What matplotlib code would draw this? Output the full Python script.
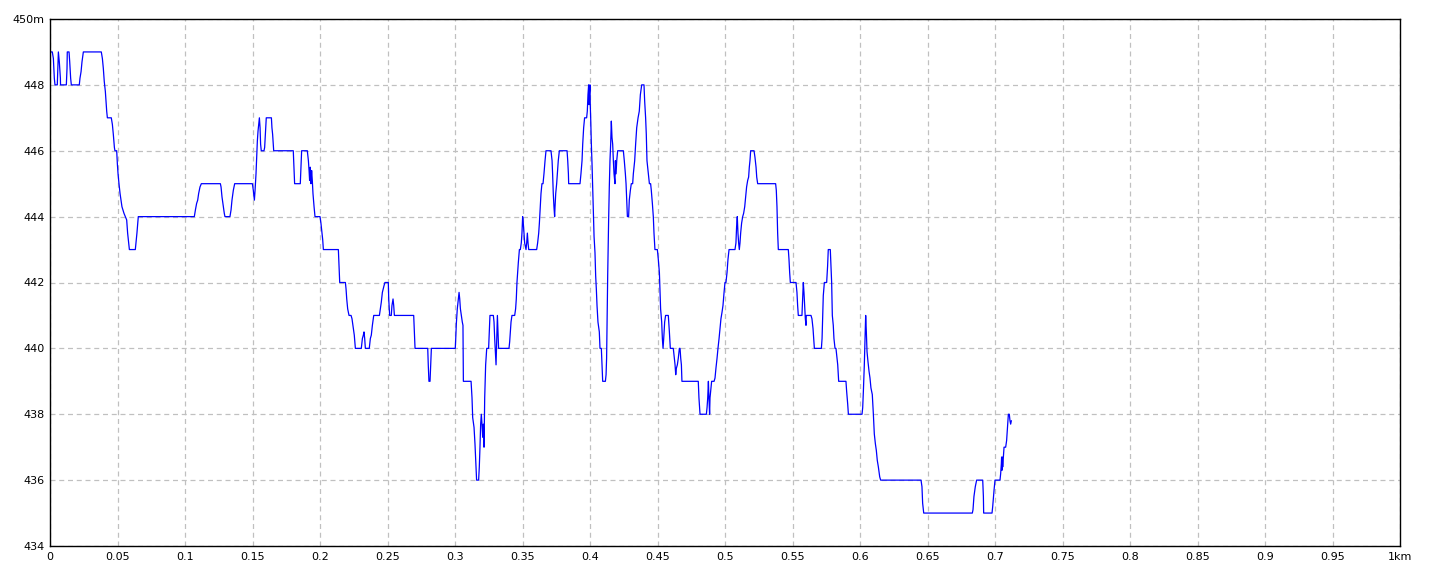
import matplotlib
matplotlib.use("Agg")
import matplotlib.pyplot as plt
import matplotlib.ticker as mtick
import numpy as np

# elevation profile: distance (km), elevation (m)
dist = [
    0.0, 0.0017, 0.0025, 0.0032, 0.0037, 0.0054, 0.0062, 0.0069, 0.0077, 0.0078,
    0.0121, 0.0126, 0.0128, 0.0141, 0.0146, 0.0153, 0.0158, 0.0217, 0.0222, 0.0230,
    0.0237, 0.0247, 0.0380, 0.0388, 0.0395, 0.0402, 0.0410, 0.0415, 0.0420, 0.0425,
    0.0454, 0.0462, 0.0469, 0.0477, 0.0481, 0.0494, 0.0499, 0.0504, 0.0511, 0.0519,
    0.0526, 0.0533, 0.0548, 0.0558, 0.0568, 0.0575, 0.0583, 0.0588, 0.0632, 0.0637,
    0.0644, 0.0652, 0.0654, 0.1069, 0.1077, 0.1086, 0.1094, 0.1101, 0.1111, 0.1121,
    0.1262, 0.1267, 0.1274, 0.1284, 0.1291, 0.1296, 0.1333, 0.1341, 0.1348, 0.1358,
    0.1368, 0.1499, 0.1506, 0.1514, 0.1519, 0.1526, 0.1531, 0.1536, 0.1541, 0.1548,
    0.1551, 0.1556, 0.1560, 0.1565, 0.1585, 0.1590, 0.1595, 0.1602, 0.1640, 0.1644,
    0.1649, 0.1654, 0.1657, 0.1802, 0.1807, 0.1812, 0.1854, 0.1859, 0.1864, 0.1906,
    0.1914, 0.1919, 0.1923, 0.1928, 0.1933, 0.1938, 0.1943, 0.1948, 0.1956, 0.1963,
    0.2000, 0.2007, 0.2015, 0.2020, 0.2025, 0.2136, 0.2141, 0.2146, 0.2188, 0.2193,
    0.2198, 0.2205, 0.2215, 0.2230, 0.2237, 0.2247, 0.2254, 0.2262, 0.2306, 0.2314,
    0.2321, 0.2326, 0.2331, 0.2336, 0.2365, 0.2373, 0.2380, 0.2388, 0.2398, 0.2440,
    0.2447, 0.2454, 0.2462, 0.2474, 0.2481, 0.2506, 0.2509, 0.2516, 0.2528, 0.2533,
    0.2541, 0.2546, 0.2551, 0.2694, 0.2699, 0.2704, 0.2798, 0.2802, 0.2807, 0.2815,
    0.2820, 0.2825, 0.3002, 0.3005, 0.3010, 0.3017, 0.3025, 0.3030, 0.3035, 0.3040,
    0.3047, 0.3054, 0.3059, 0.3062, 0.3119, 0.3126, 0.3131, 0.3141, 0.3148, 0.3156,
    0.3160, 0.3175, 0.3180, 0.3185, 0.3190, 0.3195, 0.3200, 0.3205, 0.3210, 0.3215,
    0.3220, 0.3227, 0.3235, 0.3249, 0.3254, 0.3259, 0.3284, 0.3289, 0.3294, 0.3299,
    0.3304, 0.3309, 0.3314, 0.3319, 0.3323, 0.3400, 0.3405, 0.3410, 0.3415, 0.3422,
    0.3442, 0.3449, 0.3454, 0.3459, 0.3464, 0.3469, 0.3477, 0.3484, 0.3491, 0.3496,
    0.3501, 0.3506, 0.3511, 0.3516, 0.3521, 0.3526, 0.3531, 0.3536, 0.3541, 0.3546,
    0.3605, 0.3612, 0.3620, 0.3625, 0.3630, 0.3637, 0.3644, 0.3652, 0.3659, 0.3667,
    0.3674, 0.3711, 0.3719, 0.3723, 0.3728, 0.3733, 0.3738, 0.3741, 0.3746, 0.3753,
    0.3758, 0.3765, 0.3773, 0.3830, 0.3835, 0.3840, 0.3842, 0.3926, 0.3933, 0.3941,
    0.3946, 0.3953, 0.3960, 0.3975, 0.3980, 0.3985, 0.3990, 0.3993, 0.3995, 0.4000,
    0.4002, 0.4005, 0.4010, 0.4015, 0.4020, 0.4025, 0.4030, 0.4037, 0.4042, 0.4047,
    0.4052, 0.4059, 0.4069, 0.4074, 0.4084, 0.4089, 0.4094, 0.4114, 0.4119, 0.4123,
    0.4131, 0.4138, 0.4143, 0.4148, 0.4153, 0.4158, 0.4160, 0.4163, 0.4168, 0.4173,
    0.4178, 0.4185, 0.4188, 0.4193, 0.4198, 0.4205, 0.4247, 0.4254, 0.4262, 0.4267,
    0.4272, 0.4277, 0.4286, 0.4291, 0.4299, 0.4306, 0.4316, 0.4321, 0.4331, 0.4338,
    0.4346, 0.4356, 0.4365, 0.4373, 0.4383, 0.4400, 0.4405, 0.4412, 0.4417, 0.4422,
    0.4432, 0.4440, 0.4449, 0.4454, 0.4462, 0.4469, 0.4474, 0.4481, 0.4499, 0.4506,
    0.4514, 0.4519, 0.4523, 0.4531, 0.4536, 0.4541, 0.4546, 0.4553, 0.4560, 0.4580,
    0.4588, 0.4595, 0.4617, 0.4625, 0.4630, 0.4635, 0.4640, 0.4647, 0.4654, 0.4662,
    0.4667, 0.4672, 0.4677, 0.4681, 0.4802, 0.4807, 0.4815, 0.4862, 0.4867, 0.4872,
    0.4877, 0.4881, 0.4886, 0.4889, 0.4894, 0.4901, 0.4919, 0.4926, 0.4933, 0.4941,
    0.4948, 0.4956, 0.4963, 0.4970, 0.4978, 0.4985, 0.4993, 0.5000, 0.5007, 0.5015,
    0.5022, 0.5030, 0.5074, 0.5081, 0.5086, 0.5091, 0.5096, 0.5101, 0.5106, 0.5111,
    0.5116, 0.5123, 0.5131, 0.5138, 0.5146, 0.5153, 0.5160, 0.5168, 0.5175, 0.5180,
    0.5185, 0.5190, 0.5215, 0.5222, 0.5230, 0.5235, 0.5242, 0.5375, 0.5380, 0.5385,
    0.5390, 0.5395, 0.5469, 0.5474, 0.5479, 0.5484, 0.5526, 0.5533, 0.5538, 0.5543,
    0.5570, 0.5575, 0.5580, 0.5585, 0.5590, 0.5595, 0.5600, 0.5602, 0.5607, 0.5637,
    0.5644, 0.5652, 0.5657, 0.5662, 0.5714, 0.5719, 0.5723, 0.5728, 0.5736, 0.5753,
    0.5760, 0.5765, 0.5780, 0.5785, 0.5790, 0.5795, 0.5802, 0.5807, 0.5815, 0.5822,
    0.5827, 0.5835, 0.5842, 0.5896, 0.5901, 0.5909, 0.5914, 0.6015, 0.6020, 0.6025,
    0.6032, 0.6037, 0.6042, 0.6047, 0.6052, 0.6059, 0.6067, 0.6074, 0.6081, 0.6091,
    0.6099, 0.6106, 0.6114, 0.6121, 0.6128, 0.6136, 0.6146, 0.6153, 0.6452, 0.6459,
    0.6464, 0.6472, 0.6832, 0.6837, 0.6844, 0.6854, 0.6864, 0.6909, 0.6914, 0.6916,
    0.6978, 0.6983, 0.6993, 0.7000, 0.7037, 0.7042, 0.7047, 0.7049, 0.7052, 0.7054,
    0.7057, 0.7062, 0.7067, 0.7079, 0.7086, 0.7091, 0.7094, 0.7099, 0.7106, 0.7111,
    0.7116, 0.7121,
]
elev = [
    449.0, 449.0, 448.8, 448.2, 448.0, 448.0, 449.0, 448.7, 448.2, 448.0,
    448.0, 448.5, 449.0, 449.0, 448.7, 448.2, 448.0, 448.0, 448.2, 448.4,
    448.7, 449.0, 449.0, 448.8, 448.5, 448.1, 447.8, 447.5, 447.2, 447.0,
    447.0, 446.8, 446.5, 446.1, 446.0, 446.0, 445.6, 445.3, 445.0, 444.7,
    444.5, 444.3, 444.1, 444.0, 443.9, 443.5, 443.2, 443.0, 443.0, 443.2,
    443.5, 443.9, 444.0, 444.0, 444.2, 444.4, 444.5, 444.7, 444.9, 445.0,
    445.0, 444.9, 444.6, 444.3, 444.1, 444.0, 444.0, 444.2, 444.5, 444.8,
    445.0, 445.0, 444.8, 444.5, 444.8, 445.3, 445.8, 446.3, 446.6, 446.9,
    447.0, 446.7, 446.2, 446.0, 446.0, 446.1, 446.5, 447.0, 447.0, 446.7,
    446.5, 446.2, 446.0, 446.0, 445.5, 445.0, 445.0, 445.5, 446.0, 446.0,
    445.7, 445.4, 445.1, 445.5, 445.0, 445.4, 445.1, 444.7, 444.3, 444.0,
    444.0, 443.8, 443.5, 443.3, 443.0, 443.0, 442.5, 442.0, 442.0, 441.8,
    441.5, 441.2, 441.0, 441.0, 440.9, 440.6, 440.4, 440.0, 440.0, 440.3,
    440.4, 440.5, 440.3, 440.0, 440.0, 440.3, 440.4, 440.7, 441.0, 441.0,
    441.2, 441.4, 441.7, 441.9, 442.0, 442.0, 441.5, 441.0, 441.0, 441.3,
    441.5, 441.3, 441.0, 441.0, 440.5, 440.0, 440.0, 439.5, 439.0, 439.0,
    439.5, 440.0, 440.0, 440.25, 440.76, 441.2, 441.5, 441.7, 441.5, 441.2,
    441.0, 440.8, 440.7, 439.0, 439.0, 438.5, 437.9, 437.6, 437.1, 436.4,
    436.0, 436.0, 436.4, 437.0, 437.7, 438.0, 437.7, 437.3, 437.7, 437.0,
    438.5, 439.5, 440.0, 440.0, 440.5, 441.0, 441.0, 440.8, 440.3, 439.9,
    439.5, 440.3, 441.0, 440.4, 440.0, 440.0, 440.2, 440.5, 440.8, 441.0,
    441.0, 441.2, 441.5, 442.0, 442.3, 442.6, 443.0, 443.0, 443.2, 443.5,
    444.0, 443.8, 443.5, 443.2, 443.1, 443.0, 443.2, 443.5, 443.2, 443.0,
    443.0, 443.2, 443.5, 443.8, 444.2, 444.7, 445.0, 445.0, 445.3, 445.7,
    446.0, 446.0, 445.7, 445.3, 444.7, 444.3, 444.0, 444.3, 444.7, 445.0,
    445.3, 445.7, 446.0, 446.0, 445.7, 445.3, 445.0, 445.0, 445.3, 445.7,
    446.2, 446.7, 447.0, 447.0, 447.2, 447.7, 448.0, 447.4, 447.7, 448.0,
    447.4, 447.0, 446.2, 445.6, 444.9, 444.1, 443.4, 442.9, 442.2, 441.8,
    441.3, 440.8, 440.5, 440.0, 440.0, 439.5, 439.0, 439.0, 439.2, 439.7,
    442.2, 443.9, 444.9, 445.7, 446.2, 446.9, 446.7, 446.4, 446.2, 445.7,
    445.3, 445.0, 445.7, 445.3, 445.7, 446.0, 446.0, 445.7, 445.3, 445.0,
    444.5, 444.0, 444.0, 444.5, 444.8, 445.0, 445.0, 445.3, 445.7, 446.2,
    446.7, 447.0, 447.2, 447.7, 448.0, 448.0, 447.5, 447.0, 446.5, 445.7,
    445.3, 445.0, 445.0, 444.8, 444.4, 444.0, 443.5, 443.0, 443.0, 442.7,
    442.3, 441.7, 441.2, 440.8, 440.3, 440.0, 440.3, 440.8, 441.0, 441.0,
    440.5, 440.0, 440.0, 439.7, 439.5, 439.2, 439.4, 439.5, 439.7, 440.0,
    440.0, 439.7, 439.5, 439.0, 439.0, 438.5, 438.0, 438.0, 438.2, 438.5,
    439.0, 438.5, 438.0, 438.5, 438.7, 439.0, 439.0, 439.1, 439.4, 439.7,
    440.0, 440.3, 440.6, 440.9, 441.1, 441.3, 441.7, 442.0, 442.0, 442.3,
    442.7, 443.0, 443.0, 443.2, 443.7, 444.0, 443.5, 443.2, 443.0, 443.2,
    443.5, 443.8, 444.0, 444.1, 444.3, 444.6, 444.9, 445.1, 445.2, 445.5,
    445.7, 446.0, 446.0, 445.8, 445.5, 445.2, 445.0, 445.0, 444.8, 444.3,
    443.5, 443.0, 443.0, 442.7, 442.3, 442.0, 442.0, 441.7, 441.3, 441.0,
    441.0, 441.5, 442.0, 441.7, 441.3, 440.9, 440.7, 441.0, 441.0, 441.0,
    440.9, 440.6, 440.3, 440.0, 440.0, 440.3, 440.9, 441.6, 442.0, 442.0,
    442.5, 443.0, 443.0, 442.5, 442.0, 441.0, 440.7, 440.3, 440.0, 440.0,
    439.8, 439.5, 439.0, 439.0, 438.7, 438.3, 438.0, 438.0, 438.2, 438.7,
    439.5, 440.3, 441.0, 440.5, 439.9, 439.6, 439.3, 439.1, 438.8, 438.6,
    438.0, 437.4, 437.1, 436.9, 436.6, 436.4, 436.1, 436.0, 436.0, 435.8,
    435.3, 435.0, 435.0, 435.1, 435.5, 435.8, 436.0, 436.0, 435.5, 435.0,
    435.0, 435.2, 435.7, 436.0, 436.0, 436.2, 436.5, 436.7, 436.3, 436.7,
    436.4, 436.7, 437.0, 437.0, 437.2, 437.5, 437.7, 438.0, 438.0, 437.8,
    437.7, 437.8,
]

x_ticks = [0, 0.05, 0.1, 0.15, 0.2, 0.25, 0.3, 0.35, 0.4, 0.45, 0.5,
           0.55, 0.6, 0.65, 0.7, 0.75, 0.8, 0.85, 0.9, 0.95, 1.0]
x_labels = ["0", "0.05", "0.1", "0.15", "0.2", "0.25", "0.3", "0.35", "0.4", "0.45", "0.5",
            "0.55", "0.6", "0.65", "0.7", "0.75", "0.8", "0.85", "0.9", "0.95", "1km"]
y_ticks = [434, 436, 438, 440, 442, 444, 446, 448, 450]
y_labels = ["434", "436", "438", "440", "442", "444", "446", "448", "450m"]

fig = plt.figure(figsize=(14.4, 5.76), dpi=100)
ax = fig.add_axes([50 / 1440, 30 / 576, 1350 / 1440, 527 / 576])

ax.plot(dist, elev, color="#0000ff", linewidth=0.9)

ax.set_xlim(0, 1)
ax.set_ylim(434, 450)
ax.set_xticks(x_ticks)
ax.set_xticklabels(x_labels)
ax.set_yticks(y_ticks)
ax.set_yticklabels(y_labels)
ax.tick_params(length=0, labelsize=8, pad=4)

ax.grid(True, color="#c0c0c0", linestyle=(0, (4, 3)), linewidth=0.9)
for s in ax.spines.values():
    s.set_color("black")
    s.set_linewidth(1.0)

fig.savefig("out.png", dpi=100)
